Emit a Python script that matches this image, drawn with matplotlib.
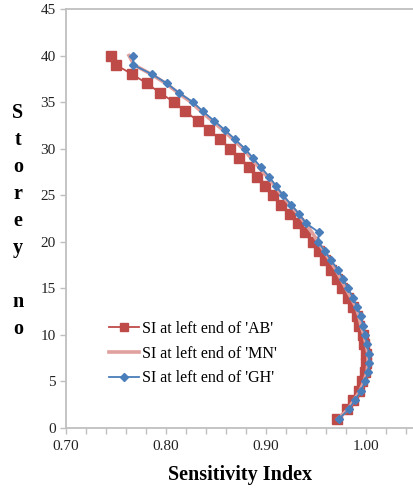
import matplotlib
matplotlib.use("Agg")
import matplotlib.pyplot as plt
from matplotlib.ticker import MultipleLocator, FormatStrFormatter

storey = list(range(1, 41))

si_ab = [0.971, 0.981, 0.987, 0.993, 0.996, 0.999, 1.000, 1.000, 0.998, 0.997,
         0.993, 0.991, 0.987, 0.982, 0.976, 0.971, 0.965, 0.959, 0.953, 0.947,
         0.939, 0.932, 0.924, 0.915, 0.907, 0.899, 0.891, 0.883, 0.873, 0.864,
         0.854, 0.843, 0.832, 0.819, 0.808, 0.794, 0.781, 0.766, 0.750, 0.745]

si_mn = [0.972, 0.982, 0.988, 0.994, 0.998, 1.001, 1.002, 1.002, 1.000, 0.998,
         0.995, 0.993, 0.990, 0.985, 0.980, 0.975, 0.970, 0.964, 0.958, 0.952,
         0.946, 0.939, 0.932, 0.924, 0.916, 0.909, 0.901, 0.893, 0.885, 0.877,
         0.867, 0.857, 0.846, 0.835, 0.825, 0.812, 0.800, 0.785, 0.768, 0.763]

si_gh = [0.973, 0.983, 0.989, 0.995, 0.999, 1.002, 1.003, 1.003, 1.001, 0.999,
         0.997, 0.995, 0.991, 0.987, 0.982, 0.977, 0.972, 0.965, 0.959, 0.952,
         0.953, 0.940, 0.933, 0.925, 0.917, 0.910, 0.903, 0.895, 0.887, 0.879,
         0.869, 0.859, 0.848, 0.837, 0.827, 0.813, 0.801, 0.786, 0.767, 0.767]

labels = ["SI at left end of 'AB'", "SI at left end of 'MN'", "SI at left end of 'GH'"]

plt.rcParams['font.family'] = ['Liberation Serif', 'DejaVu Serif']

fig = plt.figure(figsize=(4.14, 4.91), dpi=100)
ax = fig.add_axes([66/414, 63/491, 1 - 66/414, 419/491])

ax.plot(si_ab, storey, color='#BE4B48', lw=1.3, marker='s', ms=6.5,
        label=labels[0], zorder=2)
ax.plot(si_mn, storey, color='#E0A09E', lw=2.6, label=labels[1], zorder=3)
ax.plot(si_gh, storey, color='#4A7EBB', lw=1.3, marker='D', ms=4.5,
        label=labels[2], zorder=4)

ax.set_xlim(0.70, 1.048)
ax.set_ylim(0, 45)
ax.xaxis.set_major_locator(MultipleLocator(0.1))
ax.xaxis.set_minor_locator(MultipleLocator(0.02))
ax.xaxis.set_major_formatter(FormatStrFormatter('%.2f'))
ax.yaxis.set_major_locator(MultipleLocator(5))

grey = '#BFBFBF'
for s in ['left', 'bottom', 'top']:
    ax.spines[s].set_color(grey)
    ax.spines[s].set_linewidth(1.3)
ax.spines['right'].set_visible(False)
ax.tick_params(axis='both', which='both', colors=grey, labelcolor='#222222',
               labelsize=11, length=4, width=1)
ax.tick_params(axis='x', pad=5)

ax.set_xlabel('Sensitivity Index', fontsize=14.5, fontweight='bold', labelpad=8)
fig.text(18/414, 1 - 221/491, "S\nt\no\nr\ne\ny\n\nn\no", fontsize=14.5,
         fontweight='bold', ha='center', va='center', multialignment='center',
         linespacing=1.47)

ax.legend(loc='upper left', bbox_to_anchor=(0.1, 0.275), frameon=False,
          fontsize=11.5, handlelength=1.9, handletextpad=0.15, labelspacing=0.55,
          borderpad=0, markerscale=0.8)

fig.savefig('out.png', dpi=100)
